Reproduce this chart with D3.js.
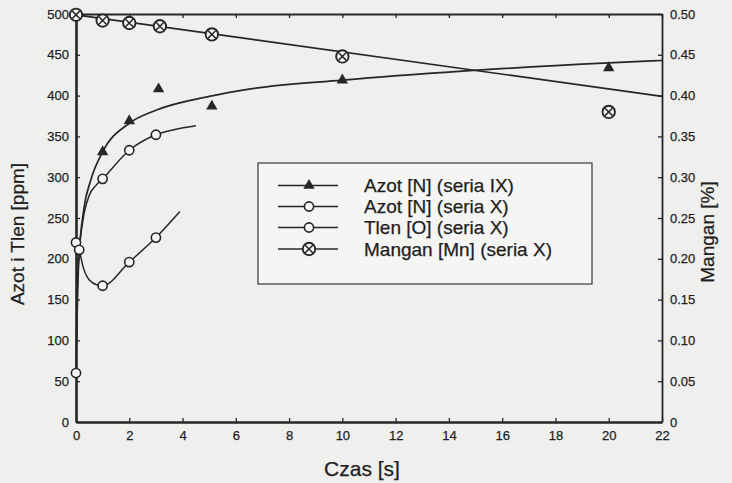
<!DOCTYPE html>
<html>
<head>
<meta charset="utf-8">
<script src="https://cdn.jsdelivr.net/npm/d3@7"></script>
<style>
  html, body { margin: 0; padding: 0; background: #efefed; }
  svg { display: block; }
  text { font-family: "Liberation Sans", Arial, Helvetica, sans-serif; fill: #1e1e1e; stroke: #1e1e1e; stroke-width: 0.25px; }
</style>
</head>
<body>
<svg id="chart" width="732" height="483"></svg>
<script>
// ---- measured series (time in s) ----
// Azot [N] (seria IX): measured points and fitted trend
const azotIX_t = [1, 2, 3.1, 5.1, 10, 20];
const azotIX_v = [331, 369, 408, 387, 419, 434];
const azotIXFit_t = [0.02, 0.1, 0.3, 0.55, 1, 2, 3, 5, 6.5, 10, 14.5, 20, 22];
const azotIXFit_v = [100, 195, 262, 296, 331, 366, 382, 399, 408, 419, 430, 440, 443];

// Azot [N] (seria X)
const azotX_t = [0, 1, 2, 3];
const azotX_v = [60, 298, 333, 352];
const azotXFit_t = [0, 0.03, 0.1, 0.25, 0.5, 0.75, 1, 2, 3, 3.8, 4.5];
const azotXFit_v = [60, 140, 200, 245, 278, 290, 298, 333, 352, 359, 363];

// Tlen [O] (seria X)
const tlen_t = [0, 0.12, 1, 2, 3];
const tlen_v = [220, 211, 167, 196, 226];
const tlenFit_t = [0, 0.12, 0.25, 0.5, 0.8, 1, 2, 3, 3.9];
const tlenFit_v = [220, 211, 192, 174, 168, 167, 196, 226, 258];

// Mangan [Mn] (seria X), right axis in %
const mangan_t = [0, 1, 2, 3.15, 5.1, 10, 20];
const mangan_v = [0.499, 0.492, 0.489, 0.485, 0.475, 0.448, 0.380];
const manganFit_t = [0, 22];
const manganFit_v = [0.499, 0.399];

// ---- axes ticks ----
const xTicks = [0, 2, 4, 6, 8, 10, 12, 14, 16, 18, 20, 22];
const yTicks = [0, 50, 100, 150, 200, 250, 300, 350, 400, 450, 500];
const yRTicks = [0, 0.05, 0.1, 0.15, 0.2, 0.25, 0.3, 0.35, 0.4, 0.45, 0.5];

const legendLabels = ["Azot [N] (seria IX)", "Azot [N] (seria X)", "Tlen [O] (seria X)", "Mangan [Mn] (seria X)"];

const ink = "#262626";
const svg = d3.select("#chart");
const L = 76, R = 662, T = 14, B = 422;

const x = d3.scaleLinear().domain([0, 22]).range([L, R]);
const y = d3.scaleLinear().domain([0, 500]).range([B, T]);
const yR = d3.scaleLinear().domain([0, 0.5]).range([B, T]);

const zip = (a, b) => a.map((v, i) => [v, b[i]]);

// ---- axes ----
function styleAxis(g, w) {
  g.select(".domain").attr("stroke", ink).attr("stroke-width", w);
  g.selectAll(".tick line").attr("stroke", ink).attr("stroke-width", 1.3);
  g.selectAll(".tick text").attr("font-size", 13).attr("fill", "#1e1e1e");
}

svg.append("g").attr("transform", `translate(0,${T})`)
  .call(d3.axisTop(x).tickValues(xTicks).tickSize(-4).tickSizeOuter(0).tickFormat(""))
  .call(g => styleAxis(g, 1.8));

svg.append("g").attr("transform", `translate(${R},0)`)
  .call(d3.axisRight(yR).tickValues(yRTicks).tickSize(-4).tickSizeOuter(0).tickPadding(8)
    .tickFormat(d => d === 0 ? "0" : d3.format(".2f")(d)))
  .call(g => styleAxis(g, 1.8));

svg.append("g").attr("transform", `translate(0,${B})`)
  .call(d3.axisBottom(x).tickValues(xTicks).tickSize(-4).tickSizeOuter(0).tickPadding(9))
  .call(g => styleAxis(g, 2.6));

svg.append("g").attr("transform", `translate(${L},0)`)
  .call(d3.axisLeft(y).tickValues(yTicks).tickSize(-4).tickSizeOuter(0).tickPadding(7))
  .call(g => styleAxis(g, 2.6));

// ---- axis titles ----
svg.append("text").attr("x", 362).attr("y", 476).attr("text-anchor", "middle")
  .attr("font-size", 21).text("Czas [s]");
svg.append("text").attr("transform", "translate(24,234) rotate(-90)").attr("text-anchor", "middle")
  .attr("font-size", 19).text("Azot i Tlen [ppm]");
svg.append("text").attr("transform", "translate(714,232) rotate(-90)").attr("text-anchor", "middle")
  .attr("font-size", 19).text("Mangan [%]");

// ---- lines ----
const line = (ys) => d3.line().x(d => x(d[0])).y(d => ys(d[1])).curve(d3.curveMonotoneX);
const plot = svg.append("g");

plot.append("path").datum(zip(manganFit_t, manganFit_v))
  .attr("d", line(yR)).attr("fill", "none").attr("stroke", ink).attr("stroke-width", 1.7);
plot.append("path").datum(zip(azotIXFit_t, azotIXFit_v))
  .attr("d", line(y)).attr("fill", "none").attr("stroke", ink).attr("stroke-width", 1.7);
plot.append("path").datum(zip(azotXFit_t, azotXFit_v))
  .attr("d", line(y)).attr("fill", "none").attr("stroke", ink).attr("stroke-width", 1.5);
plot.append("path").datum(zip(tlenFit_t, tlenFit_v))
  .attr("d", line(y)).attr("fill", "none").attr("stroke", ink).attr("stroke-width", 1.5);

// ---- markers ----
const tri = d3.symbol().type(d3.symbolTriangle).size(56);
function triangle(g, px, py) {
  g.append("path").attr("d", tri()).attr("transform", `translate(${px},${py})`).attr("fill", ink);
}
function openCircle(g, px, py) {
  g.append("circle").attr("cx", px).attr("cy", py).attr("r", 4.6)
    .attr("fill", "#f7f7f5").attr("stroke", ink).attr("stroke-width", 1.6);
}
function crossCircle(g, px, py) {
  const r = 6.2, k = r * 0.6;
  g.append("circle").attr("cx", px).attr("cy", py).attr("r", r)
    .attr("fill", "#f7f7f5").attr("stroke", ink).attr("stroke-width", 1.9);
  g.append("path").attr("d", `M${px - k},${py - k}L${px + k},${py + k}M${px - k},${py + k}L${px + k},${py - k}`)
    .attr("stroke", ink).attr("stroke-width", 1.5);
}

zip(azotIX_t, azotIX_v).forEach(d => triangle(plot, x(d[0]), y(d[1])));
zip(azotX_t, azotX_v).forEach(d => openCircle(plot, x(d[0]), y(d[1])));
zip(tlen_t, tlen_v).forEach(d => openCircle(plot, x(d[0]), y(d[1])));
zip(mangan_t, mangan_v).forEach(d => crossCircle(plot, x(d[0]), yR(d[1])));

// ---- legend ----
const lg = svg.append("g");
lg.append("rect").attr("x", 258).attr("y", 163).attr("width", 334).attr("height", 121)
  .attr("fill", "#f5f5f3").attr("stroke", "#3a3a3a").attr("stroke-width", 1.2);
const rowY = [185.5, 206.5, 227.5, 249];
const drawers = [triangle, openCircle, openCircle, crossCircle];
legendLabels.forEach((lab, i) => {
  lg.append("line").attr("x1", 278).attr("x2", 338).attr("y1", rowY[i]).attr("y2", rowY[i])
    .attr("stroke", ink).attr("stroke-width", 1.6);
  drawers[i](lg, 309, rowY[i]);
  lg.append("text").attr("x", 364).attr("y", rowY[i]).attr("dy", "0.36em")
    .attr("font-size", 19).text(lab);
});
</script>
</body>
</html>
